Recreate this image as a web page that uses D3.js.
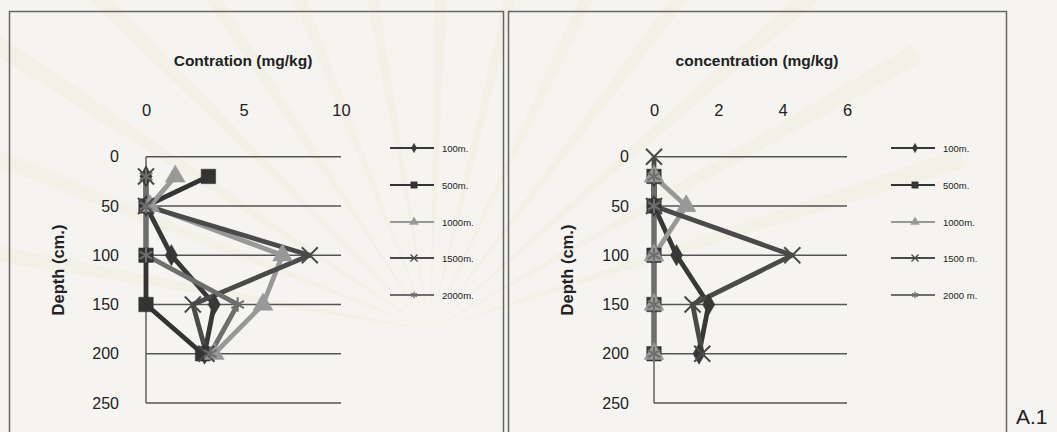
<!DOCTYPE html>
<html>
<head>
<meta charset="utf-8">
<script src="https://cdn.jsdelivr.net/npm/d3@7"></script>
<style>
  html, body { margin: 0; padding: 0; background: #f5f4f0; }
  svg { display: block; }
  text { font-family: "Liberation Sans", Arial, sans-serif; fill: #222; }
</style>
</head>
<body>
<svg id="chart" width="1057" height="432"></svg>
<script>
// Sampling depths (cm.) shared by both profiles
const depths = [0, 20, 50, 100, 150, 200];
const depthTicks = [0, 50, 100, 150, 200, 250];
const seriesNames = ["100m.", "500m.", "1000m.", "1500m.", "2000m."];
const seriesNamesRight = ["100m.", "500m.", "1000m.", "1500 m.", "2000 m."];

// Left profile, concentration (mg/kg) per depth; null = not sampled
const left100 = [null, 0, 0, 1.3, 3.5, 3.0];
const left500 = [null, 3.2, 0, 0, 0, 2.9];
const left1000 = [null, 1.5, 0.2, 7.0, 6.0, 3.5];
const left1500 = [null, 0, 0, 8.4, 2.4, 3.1];
const left2000 = [null, 0, 0, 0, 4.7, 3.3];
const leftTicks = [0, 5, 10];

// Right profile
const right100 = [null, 0, 0, 0.7, 1.7, 1.4];
const right500 = [null, 0, 0, 0, 0, 0];
const right1000 = [null, 0, 1.0, 0, 0, 0];
const right1500 = [0, null, 0, 4.3, 1.2, 1.5];
const right2000 = [null, 0, 0, 0, 0, 0];
const rightTicks = [0, 2, 4, 6];

const svg = d3.select("#chart");

// faint warm rays in the page background
const bg = svg.append("g");
const sun = [430, 330];
for (let i = 0; i < 14; i++) {
  const a = Math.PI * (0.05 + i * 0.065);
  const r = 560;
  const a2 = a + 0.035;
  bg.append("path")
    .attr("d", `M${sun[0]},${sun[1]} L${sun[0] - r * Math.cos(a)},${sun[1] - r * Math.sin(a)} L${sun[0] - r * Math.cos(a2)},${sun[1] - r * Math.sin(a2)} Z`)
    .attr("fill", "#efe5c8").attr("opacity", 0.22);
}

// panel frames
svg.append("rect").attr("x", 9.5).attr("y", 11.5).attr("width", 494).attr("height", 430)
  .attr("fill", "none").attr("stroke", "#666").attr("stroke-width", 1.5);
svg.append("rect").attr("x", 508.5).attr("y", 11.5).attr("width", 498).attr("height", 430)
  .attr("fill", "none").attr("stroke", "#666").attr("stroke-width", 1.5);

svg.append("text").attr("x", 1016).attr("y", 424).attr("font-size", 21).text("A.1");

const styles = [
  { color: "#383838", sym: d3.symbolDiamond, size: 130, stroke: false },
  { color: "#333333", sym: d3.symbolSquare, size: 210, stroke: false },
  { color: "#989898", sym: d3.symbolTriangle, size: 170, stroke: false },
  { color: "#4a4a4a", sym: d3.symbolTimes, size: 170, stroke: true },
  { color: "#6e6e6e", sym: d3.symbolAsterisk, size: 150, stroke: true }
];

function drawPanel(opt) {
  const x = d3.scaleLinear().domain([opt.ticks[0], opt.ticks[opt.ticks.length - 1]]).range(opt.xr);
  const y = d3.scaleLinear().domain([0, 250]).range([156.7, 403]);
  const g = svg.append("g");

  // title
  g.append("text").attr("x", opt.titleX).attr("y", 66).attr("text-anchor", "middle")
    .attr("font-size", 15.5).attr("font-weight", "bold").text(opt.title);

  // concentration axis labels (top)
  const xAxis = d3.axisTop(x).tickValues(opt.ticks).tickFormat(d3.format("d")).tickSize(0).tickPadding(0);
  const xg = g.append("g").attr("transform", "translate(0,116)").call(xAxis);
  xg.select(".domain").remove();
  xg.selectAll("text").attr("font-size", 16.5).attr("fill", "#1e1e1e")
    .attr("font-family", "Liberation Sans, Arial, sans-serif");

  // depth gridlines
  g.append("g").selectAll("line").data(depthTicks).join("line")
    .attr("x1", x(0)).attr("x2", opt.xr[1])
    .attr("y1", d => y(d)).attr("y2", d => y(d))
    .attr("stroke", "#555").attr("stroke-width", 1.4);

  // depth axis
  const yAxis = d3.axisLeft(y).tickValues(depthTicks).tickSize(0).tickPadding(0);
  const yg = g.append("g").attr("transform", `translate(${opt.yLabelX},0)`).call(yAxis);
  yg.select(".domain").remove();
  yg.selectAll("text").attr("font-size", 16).attr("fill", "#1e1e1e")
    .attr("font-family", "Liberation Sans, Arial, sans-serif");
  g.append("line").attr("x1", x(0)).attr("x2", x(0)).attr("y1", y(0)).attr("y2", y(250))
    .attr("stroke", "#555").attr("stroke-width", 1.4);

  g.append("text").attr("transform", `translate(${opt.depthX},270) rotate(-90)`)
    .attr("text-anchor", "middle").attr("font-size", 16.5).attr("font-weight", "bold")
    .text("Depth (cm.)");

  // series lines then markers
  const line = d3.line().x(d => x(d.v)).y(d => y(d.d));
  opt.series.forEach((vals, i) => {
    const pts = vals.map((v, k) => ({ v, d: depths[k] })).filter(p => p.v !== null);
    g.append("path").datum(pts).attr("d", line).attr("fill", "none")
      .attr("stroke", styles[i].color).attr("stroke-width", 4.8)
      .attr("stroke-linejoin", "round");
  });
  opt.series.forEach((vals, i) => {
    const st = styles[i];
    const pts = vals.map((v, k) => ({ v, d: depths[k] })).filter(p => p.v !== null);
    g.append("g").selectAll("path").data(pts).join("path")
      .attr("transform", p => `translate(${x(p.v)},${y(p.d)})`)
      .attr("d", d3.symbol().type(st.sym).size(st.size))
      .attr("fill", st.stroke ? "none" : st.color)
      .attr("stroke", st.color).attr("stroke-width", st.stroke ? 2 : 0.5);
  });

  // legend
  const rows = [148, 185, 222, 258, 295];
  opt.names.forEach((name, i) => {
    const st = styles[i];
    const lg = g.append("g").attr("transform", `translate(0,${rows[i]})`);
    lg.append("line").attr("x1", opt.legX).attr("x2", opt.legX + 44)
      .attr("stroke", st.color).attr("stroke-width", 2);
    lg.append("path").attr("transform", `translate(${opt.legX + 24},0)`)
      .attr("d", d3.symbol().type(st.sym).size(st.size * 0.2))
      .attr("fill", st.stroke ? "none" : st.color)
      .attr("stroke", st.color).attr("stroke-width", st.stroke ? 1.3 : 0.4);
    lg.append("text").attr("x", opt.legX + 52).attr("y", 3.5).attr("font-size", 9.5).text(name);
  });
}

drawPanel({
  title: "Contration (mg/kg)", titleX: 243, ticks: leftTicks, xr: [146, 341],
  yLabelX: 119, depthX: 64, legX: 390, names: seriesNames,
  series: [left100, left500, left1000, left1500, left2000]
});
drawPanel({
  title: "concentration (mg/kg)", titleX: 757, ticks: rightTicks, xr: [654, 847],
  yLabelX: 629, depthX: 573, legX: 891, names: seriesNamesRight,
  series: [right100, right500, right1000, right1500, right2000]
});
</script>
</body>
</html>
